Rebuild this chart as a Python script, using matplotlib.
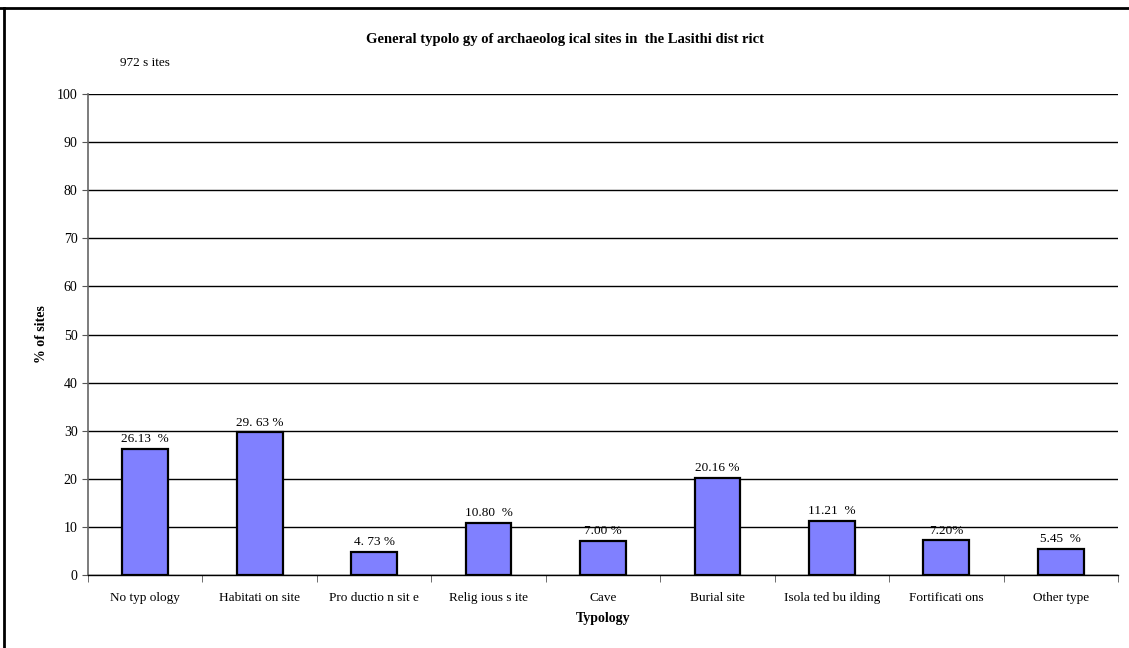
import numpy as np
import matplotlib
matplotlib.use("Agg")
import matplotlib.pyplot as plt
from matplotlib.lines import Line2D

categories = ["No typ ology", "Habitati on site", "Pro ductio n sit e", "Relig ious s ite",
              "Cave", "Burial site", "Isola ted bu ilding", "Fortificati ons", "Other type"]
percent = [26.13, 29.63, 4.73, 10.80, 7.00, 20.16, 11.21, 7.20, 5.45]
value_labels = ["26.13  %", "29. 63 %", "4. 73 %", "10.80  %", "7.00 %",
                "20.16 %", "11.21  %", "7.20%", "5.45  %"]
yticks = [0, 10, 20, 30, 40, 50, 60, 70, 80, 90, 100]

plt.rcParams['font.family'] = ['Liberation Serif', 'DejaVu Serif']

fig = plt.figure(figsize=(11.29, 6.48), dpi=100)
ax = fig.add_axes([88 / 1129, 1 - 575 / 648, (1118 - 88) / 1129, (575 - 94) / 648])

x = np.arange(len(categories))
ax.bar(x, percent, width=0.4, color='#8080ff', edgecolor='black', linewidth=1.6, zorder=3)
for xi, v, lab in zip(x, percent, value_labels):
    ax.text(xi, v + 0.8, lab, ha='center', va='bottom', fontsize=9.5)

ax.set_xlim(-0.5, len(categories) - 0.5)
ax.set_ylim(0, 100)
ax.set_yticks(yticks)
ax.tick_params(axis='y', labelsize=10, direction='out', length=4, color='#555555')
ax.set_xticks(x)
ax.set_xticklabels(categories, fontsize=9.5)
ax.tick_params(axis='x', length=0, pad=12)
# tick marks between categories
ax.set_xticks(np.arange(len(categories) + 1) - 0.5, minor=True)
ax.tick_params(axis='x', which='minor', length=5, direction='out', color='#555555')

ax.yaxis.grid(True, color='black', linewidth=1.0, zorder=0)
ax.set_axisbelow(True)
for s in ['top', 'right']:
    ax.spines[s].set_visible(False)
ax.spines['left'].set_color('#666666')
ax.spines['left'].set_linewidth(1.2)
ax.spines['bottom'].set_color('black')
ax.spines['bottom'].set_linewidth(1.0)

ax.set_xlabel('Typology', fontsize=10, fontweight='bold', labelpad=6)
ax.set_ylabel('% of sites', fontsize=10, fontweight='bold', labelpad=6)

fig.text(0.5, 1 - 40 / 648, 'General typolo gy of archaeolog ical sites in  the Lasithi dist rict',
         ha='center', va='center', fontsize=10.5, fontweight='bold')
fig.text(120 / 1129, 1 - 63 / 648, '972 s ites', ha='left', va='center', fontsize=9.5)

# outer frame lines (top and left)
fig.add_artist(Line2D([0, 1], [1 - 8 / 648, 1 - 8 / 648], color='black', linewidth=2.0))
fig.add_artist(Line2D([4 / 1129, 4 / 1129], [0, 1 - 8 / 648], color='black', linewidth=2.0))

fig.savefig('out.png', dpi=100)
